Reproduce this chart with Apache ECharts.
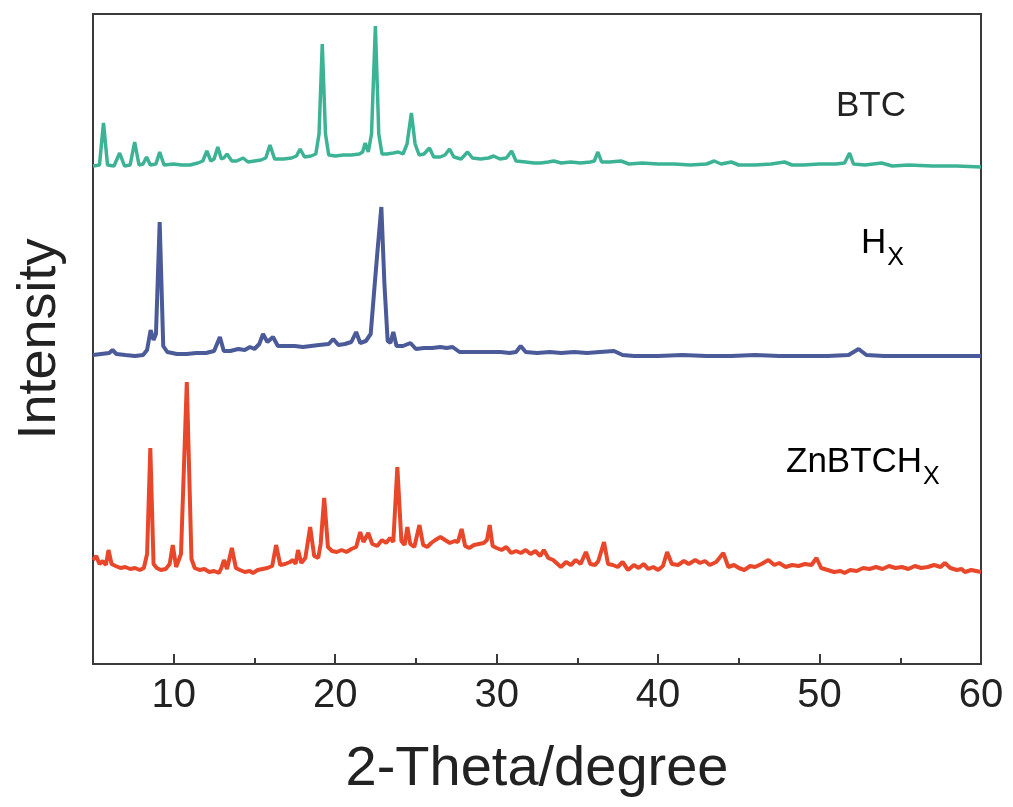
<!DOCTYPE html>
<html>
<head>
<meta charset="utf-8">
<script src="https://cdn.jsdelivr.net/npm/echarts@6.0.0/dist/echarts.min.js"></script>
<style>
  html, body { margin: 0; padding: 0; background: #fff; }
  #ch1 { width: 1013px; height: 807px; }
</style>
</head>
<body>
<div id="ch1"></div>
<script>
// tick labels on the 2-theta axis
var majorTicks = [10, 20, 30, 40, 50, 60];
var minorTicks = [15, 25, 35, 45, 55];

// BTC pattern (offset top), [2theta, intensity]
var btc = [
  [5.0, 498], [5.4, 499], [5.65, 541], [5.9, 499], [6.3, 498], [6.65, 511], [6.95, 498], [7.3, 499],
  [7.58, 522], [7.85, 499], [8.1, 500], [8.32, 507], [8.55, 499], [8.9, 500], [9.13, 512], [9.4, 499],
  [10.0, 500], [10.5, 499], [11.0, 499], [11.5, 501], [11.8, 503], [12.05, 513], [12.3, 503], [12.5, 505],
  [12.73, 517], [12.95, 505], [13.1, 506], [13.3, 510], [13.6, 503], [13.9, 503], [14.3, 506], [14.6, 502],
  [15.0, 503], [15.4, 504], [15.7, 506], [15.96, 519], [16.25, 505], [16.8, 505], [17.3, 506], [17.6, 508],
  [17.83, 515], [18.1, 507], [18.5, 508], [18.8, 510], [19.0, 530], [19.2, 620], [19.4, 530], [19.6, 509],
  [20.0, 508], [20.5, 509], [21.0, 509], [21.5, 510], [21.7, 512], [21.86, 521], [22.05, 512], [22.25, 530],
  [22.49, 638], [22.7, 530], [22.9, 510], [23.2, 510], [23.6, 511], [23.91, 512], [24.2, 510], [24.45, 520],
  [24.72, 551], [24.95, 520], [25.2, 509], [25.5, 510], [25.84, 516], [26.1, 507], [26.5, 507], [26.8, 509],
  [27.08, 515], [27.35, 507], [27.8, 505], [28.2, 512], [28.5, 506], [29.0, 505], [29.5, 506], [29.81, 508],
  [30.2, 505], [30.6, 506], [30.93, 513], [31.2, 503], [31.8, 502], [32.3, 501], [32.73, 501], [33.2, 502],
  [33.54, 503], [34.0, 501], [34.6, 502], [35.2, 501], [35.8, 502], [36.05, 503], [36.27, 512], [36.5, 502],
  [37.0, 502], [37.7, 503], [38.2, 500], [39.0, 501], [40.0, 500], [41.0, 500], [42.0, 499], [43.0, 500],
  [43.48, 503], [43.9, 500], [44.53, 502], [45.0, 499], [46.0, 499], [47.0, 500], [47.83, 502], [48.3, 499],
  [49.0, 499], [50.0, 500], [51.0, 500], [51.55, 501], [51.86, 511], [52.1, 500], [52.8, 499], [53.85, 501],
  [54.5, 498], [55.5, 499], [57.0, 498], [58.5, 498], [60.0, 497]
];

// Hx pattern (middle)
var hx = [
  [5.0, 309], [5.5, 310], [6.0, 311], [6.21, 314], [6.45, 310], [7.0, 309], [7.6, 308], [8.1, 309],
  [8.35, 314], [8.57, 334], [8.75, 324], [8.9, 330], [9.13, 442], [9.35, 318], [9.6, 312], [10.2, 310],
  [10.8, 310], [11.4, 311], [12.0, 311], [12.5, 313], [12.86, 327], [13.1, 313], [13.5, 313], [14.0, 315],
  [14.4, 314], [14.72, 317], [15.0, 315], [15.3, 320], [15.53, 330], [15.8, 322], [16.15, 327], [16.45, 318],
  [17.0, 318], [17.5, 318], [18.0, 317], [18.5, 318], [19.0, 319], [19.6, 320], [19.88, 325], [20.2, 319],
  [20.6, 320], [21.0, 322], [21.3, 332], [21.55, 321], [21.9, 323], [22.2, 330], [22.45, 380], [22.61, 411],
  [22.86, 457], [23.05, 380], [23.25, 323], [23.42, 321], [23.6, 332], [23.8, 318], [24.2, 318], [24.66, 321],
  [25.0, 315], [25.5, 316], [26.0, 316], [26.52, 317], [26.9, 316], [27.27, 317], [27.7, 312], [28.5, 312],
  [29.5, 312], [30.25, 312], [30.8, 311], [31.2, 312], [31.49, 318], [31.8, 312], [32.5, 311], [33.3, 312],
  [34.0, 311], [34.8, 312], [35.6, 311], [36.4, 312], [37.27, 313], [37.8, 309], [38.5, 308], [40.0, 308],
  [41.5, 309], [43.0, 308], [44.5, 308], [46.0, 309], [47.5, 308], [49.0, 308], [50.5, 308], [51.8, 309],
  [52.42, 315], [52.9, 309], [54.0, 308], [55.5, 308], [57.0, 308], [58.5, 308], [60.0, 308]
];

// ZnBTCHx pattern (bottom)
var znbtchx = [
  [5.0, 104], [5.2, 108], [5.4, 100], [5.6, 103], [5.8, 99], [5.96, 114], [6.15, 100], [6.4, 98],
  [6.7, 96], [7.0, 97], [7.3, 95], [7.6, 96], [7.9, 94], [8.15, 96], [8.35, 110], [8.55, 216],
  [8.75, 100], [8.95, 96], [9.2, 94], [9.5, 95], [9.75, 100], [9.94, 119], [10.15, 97], [10.45, 110],
  [10.81, 282], [11.1, 105], [11.3, 96], [11.6, 94], [11.9, 95], [12.2, 92], [12.5, 93], [12.8, 91],
  [12.95, 96], [13.11, 104], [13.3, 95], [13.6, 116], [13.85, 96], [14.1, 94], [14.4, 92], [14.7, 93],
  [14.91, 91], [15.2, 94], [15.5, 95], [15.8, 96], [16.1, 98], [16.34, 119], [16.6, 99], [16.9, 100],
  [17.2, 102], [17.39, 104], [17.55, 100], [17.7, 114], [17.9, 101], [18.15, 106], [18.45, 137], [18.7, 108],
  [18.95, 106], [19.1, 120], [19.32, 166], [19.55, 117], [19.8, 113], [20.1, 112], [20.4, 114], [20.7, 112],
  [21.0, 115], [21.3, 117], [21.55, 132], [21.75, 122], [22.05, 131], [22.3, 120], [22.6, 118], [22.9, 124],
  [23.15, 121], [23.4, 126], [23.6, 122], [23.85, 197], [24.1, 123], [24.3, 119], [24.47, 137], [24.65, 120],
  [24.9, 117], [25.22, 139], [25.45, 119], [25.7, 117], [25.95, 121], [26.2, 124], [26.52, 127], [26.8, 124],
  [27.1, 121], [27.4, 123], [27.6, 122], [27.83, 135], [28.05, 118], [28.3, 116], [28.6, 119], [28.9, 120],
  [29.2, 121], [29.4, 124], [29.57, 139], [29.75, 118], [30.0, 116], [30.3, 114], [30.6, 117], [30.9, 111],
  [31.2, 113], [31.5, 111], [31.8, 114], [32.1, 110], [32.4, 113], [32.7, 108], [32.92, 114], [33.2, 106],
  [33.5, 104], [33.98, 97], [34.3, 102], [34.6, 99], [34.9, 104], [35.2, 100], [35.53, 112], [35.8, 100],
  [36.1, 99], [36.3, 103], [36.65, 122], [36.9, 100], [37.2, 99], [37.5, 97], [37.8, 102], [38.14, 94],
  [38.5, 99], [38.8, 96], [39.1, 100], [39.4, 95], [39.7, 97], [40.0, 94], [40.3, 98], [40.56, 112],
  [40.85, 100], [41.24, 99], [41.6, 103], [41.9, 100], [42.3, 104], [42.6, 101], [42.9, 103], [43.2, 99],
  [43.6, 102], [44.04, 111], [44.35, 97], [44.7, 99], [45.0, 96], [45.34, 94], [45.7, 98], [46.0, 97],
  [46.4, 100], [46.83, 104], [47.2, 99], [47.5, 101], [47.9, 97], [48.3, 99], [48.7, 98], [49.1, 100],
  [49.5, 99], [49.81, 106], [50.1, 96], [50.5, 94], [50.9, 92], [51.3, 93], [51.55, 91], [51.9, 94],
  [52.3, 93], [52.7, 96], [53.1, 95], [53.5, 97], [53.9, 95], [54.3, 98], [54.7, 96], [55.1, 97],
  [55.5, 95], [55.9, 98], [56.3, 96], [56.7, 97], [57.1, 99], [57.5, 97], [57.76, 101], [58.1, 96],
  [58.5, 94], [58.8, 95], [59.0, 92], [59.4, 94], [59.7, 93], [60.0, 92]
];

window.onload = function() {
  var ch1 = echarts.init(document.getElementById('ch1'));
  var font = 'Liberation Sans, Arial, sans-serif';
  var axisColor = '#3a3a3a';
  // subscript styles for the curve labels
  var subRich = {
    a: { fontFamily: font, fontSize: 35, lineHeight: 34, verticalAlign: 'top', color: '#222' },
    b: { fontFamily: font, fontSize: 25, padding: [20, 0, 0, 1], verticalAlign: 'bottom', color: '#222' }
  };

  var op1 = {
    backgroundColor: '#fff',
    animation: false,
    grid: {
      left: 93,
      right: 32,
      top: 14,
      bottom: 143,
      show: true,
      borderColor: axisColor,
      borderWidth: 2
    },
    xAxis: [{
      type: 'value',
      min: 5,
      max: 60,
      position: 'bottom',
      name: '2-Theta/degree',
      nameLocation: 'middle',
      nameGap: 78,
      nameTextStyle: { fontFamily: font, fontSize: 56, color: '#222' },
      axisLine: { show: true, lineStyle: { color: axisColor, width: 2 } },
      axisTick: { show: true, inside: true, length: 10, customValues: majorTicks, lineStyle: { color: axisColor, width: 2 } },
      axisLabel: { show: true, customValues: majorTicks, margin: 12, fontFamily: font, fontSize: 40, color: '#222' },
      splitLine: { show: false }
    }, {
      type: 'value',
      min: 5,
      max: 60,
      position: 'bottom',
      axisLine: { show: false },
      axisTick: { show: true, inside: true, length: 6, customValues: minorTicks, lineStyle: { color: axisColor, width: 2 } },
      axisLabel: { show: false },
      splitLine: { show: false }
    }],
    yAxis: {
      type: 'value',
      min: 0,
      max: 650,
      name: 'Intensity',
      nameLocation: 'middle',
      nameGap: 26,
      nameTextStyle: { fontFamily: font, fontSize: 54, color: '#222' },
      axisLine: { show: true, lineStyle: { color: axisColor, width: 2 } },
      axisTick: { show: false },
      axisLabel: { show: false },
      splitLine: { show: false }
    },
    graphic: [
      { type: 'text', left: 836, top: 89, style: { text: 'BTC', font: '35px ' + font, fill: '#222' } },
      { type: 'text', left: 861, top: 226, style: { text: '{a|H}{b|X}', rich: subRich } },
      { type: 'text', left: 786, top: 445, style: { text: '{a|ZnBTCH}{b|X}', rich: subRich } }
    ],
    series: [{
      name: 'BTC',
      type: 'line',
      data: btc,
      showSymbol: false,
      lineStyle: { color: '#3DB396', width: 3.5 }
    }, {
      name: 'Hx',
      type: 'line',
      data: hx,
      showSymbol: false,
      lineStyle: { color: '#4B5A98', width: 4 }
    }, {
      name: 'ZnBTCHx',
      type: 'line',
      data: znbtchx,
      showSymbol: false,
      lineStyle: { color: '#E8472A', width: 4 }
    }]
  };

  ch1.setOption(op1);
};
</script>
</body>
</html>
